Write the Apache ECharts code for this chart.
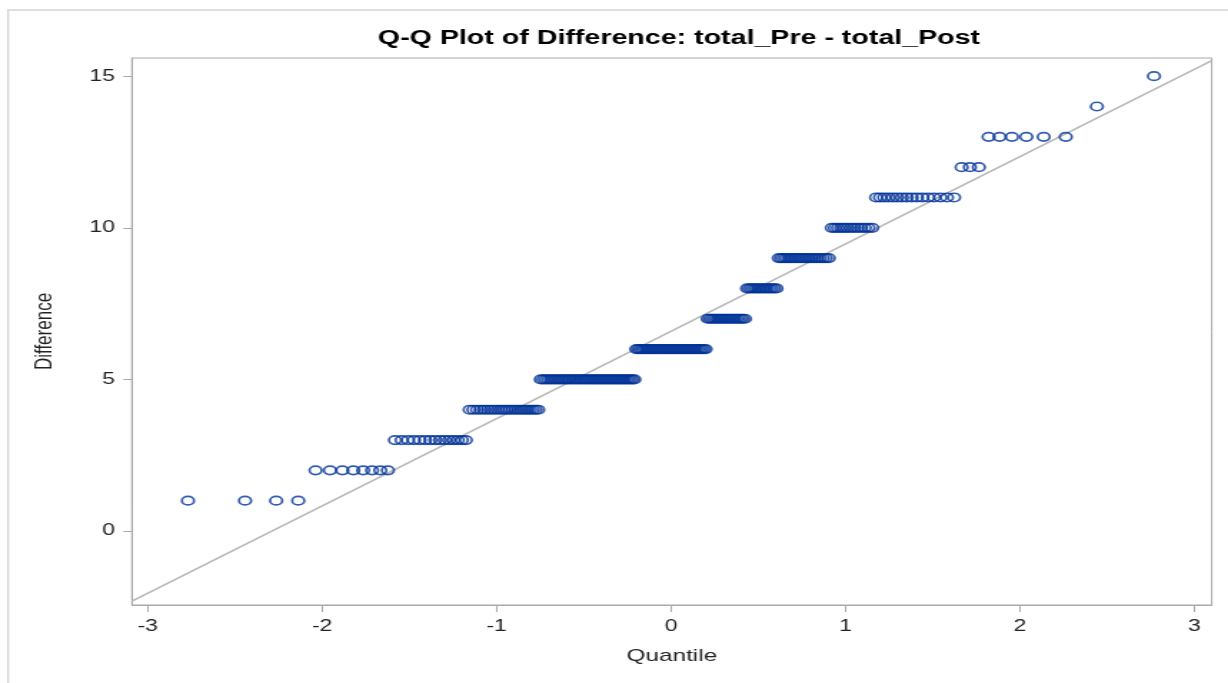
<!DOCTYPE html>
<html>
<head>
<meta charset="utf-8">
<script src="https://cdn.jsdelivr.net/npm/echarts@6/dist/echarts.min.js"></script>
<style>
  html, body { margin: 0; padding: 0; background: #fff; overflow: hidden; width: 1228px; height: 683px; }
  #main { width: 859px; height: 683px; transform: scaleX(1.4296); transform-origin: 0 0; }
</style>
</head>
<body>
<div id="main"></div>
<script>
// ---- data ----
const titleText = 'Q-Q Plot of Difference: total_Pre - total_Post';
const xAxisName = 'Quantile';
const yAxisName = 'Difference';
// observed difference values and how many observations have each value
const diffValues = [1, 2, 3, 4, 5, 6, 7, 8, 9, 10, 11, 12, 13, 14, 15];
const diffCounts = [4, 8, 15, 23, 43, 36, 19, 14, 20, 13, 16, 3, 6, 1, 1];
const xTicks = [-3, -2, -1, 0, 1, 2, 3];
const yTicks = [0, 5, 10, 15];

// ---- normal quantile (Acklam) ----
function normInv(p) {
  const a = [-3.969683028665376e+01, 2.209460984245205e+02, -2.759285104469687e+02, 1.383577518672690e+02, -3.066479806614716e+01, 2.506628277459239e+00];
  const b = [-5.447609879822406e+01, 1.615858368580409e+02, -1.556989798598866e+02, 6.680131188771972e+01, -1.328068155288572e+01];
  const c = [-7.784894002430293e-03, -3.223964580411365e-01, -2.400758277161838e+00, -2.549732539343734e+00, 4.374664141464968e+00, 2.938163982698783e+00];
  const d = [7.784695709041462e-03, 3.224671290700398e-01, 2.445134137142996e+00, 3.754408661907416e+00];
  const pl = 0.02425, ph = 1 - pl;
  let q, r;
  if (p < pl) {
    q = Math.sqrt(-2 * Math.log(p));
    return (((((c[0]*q+c[1])*q+c[2])*q+c[3])*q+c[4])*q+c[5]) / ((((d[0]*q+d[1])*q+d[2])*q+d[3])*q+1);
  } else if (p <= ph) {
    q = p - 0.5; r = q * q;
    return (((((a[0]*r+a[1])*r+a[2])*r+a[3])*r+a[4])*r+a[5])*q / (((((b[0]*r+b[1])*r+b[2])*r+b[3])*r+b[4])*r+1);
  } else {
    q = Math.sqrt(-2 * Math.log(1 - p));
    return -(((((c[0]*q+c[1])*q+c[2])*q+c[3])*q+c[4])*q+c[5]) / ((((d[0]*q+d[1])*q+d[2])*q+d[3])*q+1);
  }
}

// sorted observations -> (normal quantile, value) pairs, Blom ranks
const sorted = [];
diffValues.forEach((v, i) => { for (let k = 0; k < diffCounts[i]; k++) sorted.push(v); });
const n = sorted.length;
const qqPoints = sorted.map((v, i) => [normInv((i + 1 - 0.375) / (n + 0.25)), v]);

// reference line: mu = sample mean, sigma = sample std dev
const mu = sorted.reduce((s, v) => s + v, 0) / n;
const sigma = Math.sqrt(sorted.reduce((s, v) => s + (v - mu) * (v - mu), 0) / (n - 1));
const xMin = -3.09, xMax = 3.1;
const refLine = [[xMin, mu + sigma * xMin], [xMax, mu + sigma * xMax]];

const FONT = '"Liberation Sans", Arial, Helvetica, sans-serif';
const gridLeft = 92.3, gridRight = 11.4, gridTop = 58, gridBottom = 78;
const W = 859;
const plotCenter = gridLeft + (W - gridLeft - gridRight) / 2;
const ctx = document.createElement('canvas').getContext('2d');
ctx.font = 'bold 20px ' + FONT;
const titleW = ctx.measureText(titleText).width;

const chart = echarts.init(document.getElementById('main'), null, { renderer: 'canvas' });
chart.setOption({
  animation: false,
  backgroundColor: '#fff',
  title: {
    text: titleText,
    left: plotCenter - titleW / 2,
    top: 23,
    textStyle: { fontFamily: FONT, fontSize: 20, fontWeight: 'bold', color: '#000' }
  },
  graphic: [{
    type: 'rect', silent: true, z: -10,
    shape: { x: 5.6, y: 10, width: 900, height: 700 },
    style: { fill: 'none', stroke: '#d4d4d4', lineWidth: 1.4 }
  }],
  grid: {
    left: gridLeft, right: gridRight, top: gridTop, bottom: gridBottom,
    show: true, borderColor: '#a9a9a9', borderWidth: 1, backgroundColor: '#fff'
  },
  xAxis: {
    type: 'value', min: xMin, max: xMax,
    name: xAxisName, nameLocation: 'middle', nameGap: 43,
    nameTextStyle: { fontFamily: FONT, fontSize: 17, color: '#222' },
    axisLine: { show: true, onZero: false, lineStyle: { color: '#a9a9a9', width: 1 } },
    axisTick: { show: true, length: 7, customValues: xTicks, lineStyle: { color: '#a9a9a9' } },
    axisLabel: { customValues: xTicks, fontFamily: FONT, fontSize: 16, color: '#222', margin: 14 },
    splitLine: { show: false }
  },
  yAxis: {
    type: 'value', min: -2.44, max: 15.6,
    name: yAxisName, nameLocation: 'middle', nameGap: 52,
    nameTextStyle: { fontFamily: FONT, fontSize: 17, color: '#222' },
    axisLine: { show: true, onZero: false, lineStyle: { color: '#a9a9a9', width: 1 } },
    axisTick: { show: true, length: 6, customValues: yTicks, lineStyle: { color: '#a9a9a9' } },
    axisLabel: { customValues: yTicks, fontFamily: FONT, fontSize: 16, color: '#222', margin: 12 },
    splitLine: { show: false }
  },
  series: [
    {
      type: 'line', data: refLine, showSymbol: false, silent: true, z: 1,
      lineStyle: { color: '#b8b8b8', width: 1.6 }
    },
    {
      type: 'scatter', data: qqPoints, silent: true, z: 2,
      symbol: 'circle', symbolSize: 8.5,
      itemStyle: { color: 'rgba(0,0,0,0)', borderColor: '#003399', borderWidth: 1.7 }
    }
  ]
});
</script>
</body>
</html>
